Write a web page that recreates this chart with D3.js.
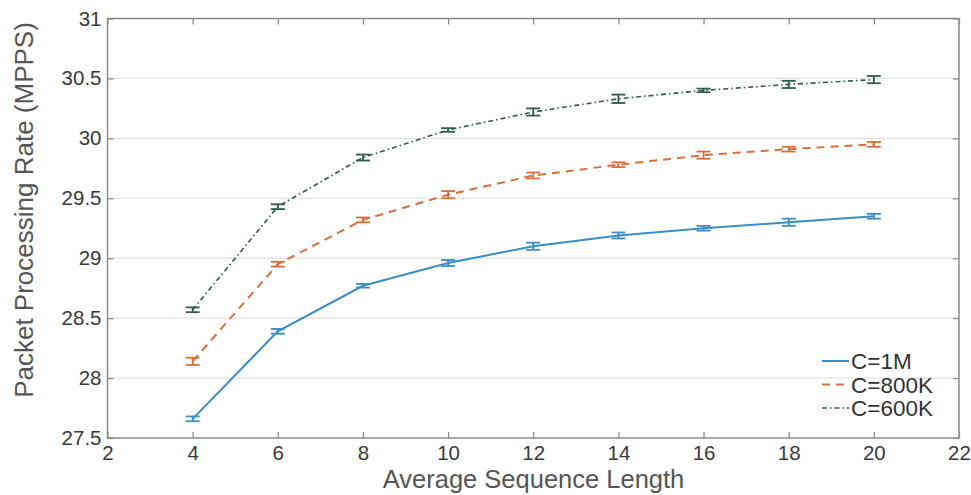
<!DOCTYPE html>
<html>
<head>
<meta charset="utf-8">
<script src="https://cdn.jsdelivr.net/npm/d3@7"></script>
<style>
  body { margin: 0; background: #fff; }
  svg { font-family: "Liberation Sans", Arial, sans-serif; }
</style>
</head>
<body>
<svg id="chart" width="971" height="495"></svg>
<script>
// data
const seqLength = [4, 6, 8, 10, 12, 14, 16, 18, 20];
const rate1M   = [27.66, 28.39, 28.77, 28.96, 29.10, 29.19, 29.25, 29.30, 29.35];
const err1M    = [0.02, 0.02, 0.015, 0.025, 0.03, 0.025, 0.02, 0.03, 0.02];
const rate800K = [28.14, 28.95, 29.32, 29.53, 29.69, 29.78, 29.86, 29.91, 29.95];
const err800K  = [0.03, 0.02, 0.02, 0.03, 0.025, 0.02, 0.03, 0.02, 0.02];
const rate600K = [28.57, 29.43, 29.84, 30.07, 30.22, 30.33, 30.40, 30.45, 30.49];
const err600K  = [0.02, 0.02, 0.025, 0.015, 0.03, 0.035, 0.015, 0.03, 0.03];
const seriesNames = ["C=1M", "C=800K", "C=600K"];
const xTicks = [2, 4, 6, 8, 10, 12, 14, 16, 18, 20, 22];
const yTicks = [27.5, 28, 28.5, 29, 29.5, 30, 30.5, 31];

const margin = {top: 18.5, right: 12, bottom: 57, left: 107.5},
    width = 971 - margin.left - margin.right,
    height = 495 - margin.top - margin.bottom;

const svg = d3.select("#chart")
  .append("g")
    .attr("transform", "translate(" + margin.left + "," + margin.top + ")");

const x = d3.scaleLinear().domain([2, 22]).range([0, width]);
const y = d3.scaleLinear().domain([27.5, 31]).range([height, 0]);

// horizontal grid
svg.append("g")
  .selectAll("line")
  .data(yTicks.slice(1, -1))
  .enter().append("line")
    .attr("x1", 0).attr("x2", width)
    .attr("y1", d => y(d)).attr("y2", d => y(d))
    .attr("stroke", "#e3e3e3").attr("stroke-width", 1.2);

const axisColor = "#8c8c8c";
function styleAxis(g) {
  g.select(".domain").remove();
  g.selectAll(".tick line").attr("stroke", axisColor).attr("stroke-width", 1.3);
  g.selectAll(".tick text").attr("fill", "#3a3a3a").style("font-size", "20.5px");
}

svg.append("g")
  .attr("transform", "translate(0," + height + ")")
  .call(d3.axisBottom(x).tickValues(xTicks).tickSize(-6).tickPadding(7).tickFormat(d3.format("d")))
  .call(styleAxis);
svg.append("g")
  .call(d3.axisTop(x).tickValues(xTicks).tickSize(-6).tickFormat(""))
  .call(styleAxis);
svg.append("g")
  .call(d3.axisLeft(y).tickValues(yTicks).tickSize(-6).tickPadding(6).tickFormat(d3.format("")))
  .call(styleAxis);
svg.append("g")
  .attr("transform", "translate(" + width + ",0)")
  .call(d3.axisRight(y).tickValues(yTicks).tickSize(-6).tickFormat(""))
  .call(styleAxis);

// box
svg.append("rect")
  .attr("width", width).attr("height", height)
  .attr("fill", "none").attr("stroke", axisColor).attr("stroke-width", 1.5);

const series = [
  {name: seriesNames[0], vals: rate1M,   errs: err1M,   color: "#3a8ec4", dash: null,        w: 2},
  {name: seriesNames[1], vals: rate800K, errs: err800K, color: "#d8703c", dash: "8,6",       w: 2},
  {name: seriesNames[2], vals: rate600K, errs: err600K, color: "#2f5c4e", dash: "5,3,1.5,3", w: 1.6}
];

const line = d3.line()
  .x(d => x(d[0]))
  .y(d => y(d[1]));

series.forEach(s => {
  const pts = seqLength.map((v, i) => [v, s.vals[i], s.errs[i]]);
  svg.append("path")
    .datum(pts)
    .attr("d", line)
    .attr("fill", "none")
    .attr("stroke", s.color)
    .attr("stroke-width", s.w)
    .attr("stroke-dasharray", s.dash);

  const eb = svg.append("g").selectAll("g").data(pts).enter().append("g");
  eb.append("line")
    .attr("x1", d => x(d[0])).attr("x2", d => x(d[0]))
    .attr("y1", d => y(d[1] - d[2])).attr("y2", d => y(d[1] + d[2]))
    .attr("stroke", s.color).attr("stroke-width", 1.8);
  eb.append("line")
    .attr("x1", d => x(d[0]) - 7).attr("x2", d => x(d[0]) + 7)
    .attr("y1", d => y(d[1] - d[2])).attr("y2", d => y(d[1] - d[2]))
    .attr("stroke", s.color).attr("stroke-width", 1.8);
  eb.append("line")
    .attr("x1", d => x(d[0]) - 7).attr("x2", d => x(d[0]) + 7)
    .attr("y1", d => y(d[1] + d[2])).attr("y2", d => y(d[1] + d[2]))
    .attr("stroke", s.color).attr("stroke-width", 1.8);
});

// legend (no box)
const legend = svg.append("g")
  .attr("transform", "translate(" + (822 - margin.left) + "," + (361 - margin.top) + ")");
series.forEach((s, i) => {
  const g = legend.append("g").attr("transform", "translate(0," + (i * 23.5) + ")");
  g.append("line")
    .attr("x1", 0).attr("x2", 27)
    .attr("stroke", s.color).attr("stroke-width", s.w)
    .attr("stroke-dasharray", s.dash);
  g.append("text")
    .attr("x", 29).attr("y", 8)
    .text(s.name)
    .attr("fill", "#333")
    .style("font-size", "22.5px");
});

// axis titles
svg.append("text")
  .attr("transform", "translate(" + (533.5 - margin.left) + "," + (488 - margin.top) + ")")
  .style("text-anchor", "middle")
  .style("font-size", "25.5px")
  .attr("fill", "#555")
  .text("Average Sequence Length");
svg.append("text")
  .attr("transform", "translate(" + (33 - margin.left) + "," + (210 - margin.top) + ")rotate(-90)")
  .style("text-anchor", "middle")
  .style("font-size", "26px")
  .attr("fill", "#555")
  .text("Packet Processing Rate (MPPS)");
</script>
</body>
</html>
